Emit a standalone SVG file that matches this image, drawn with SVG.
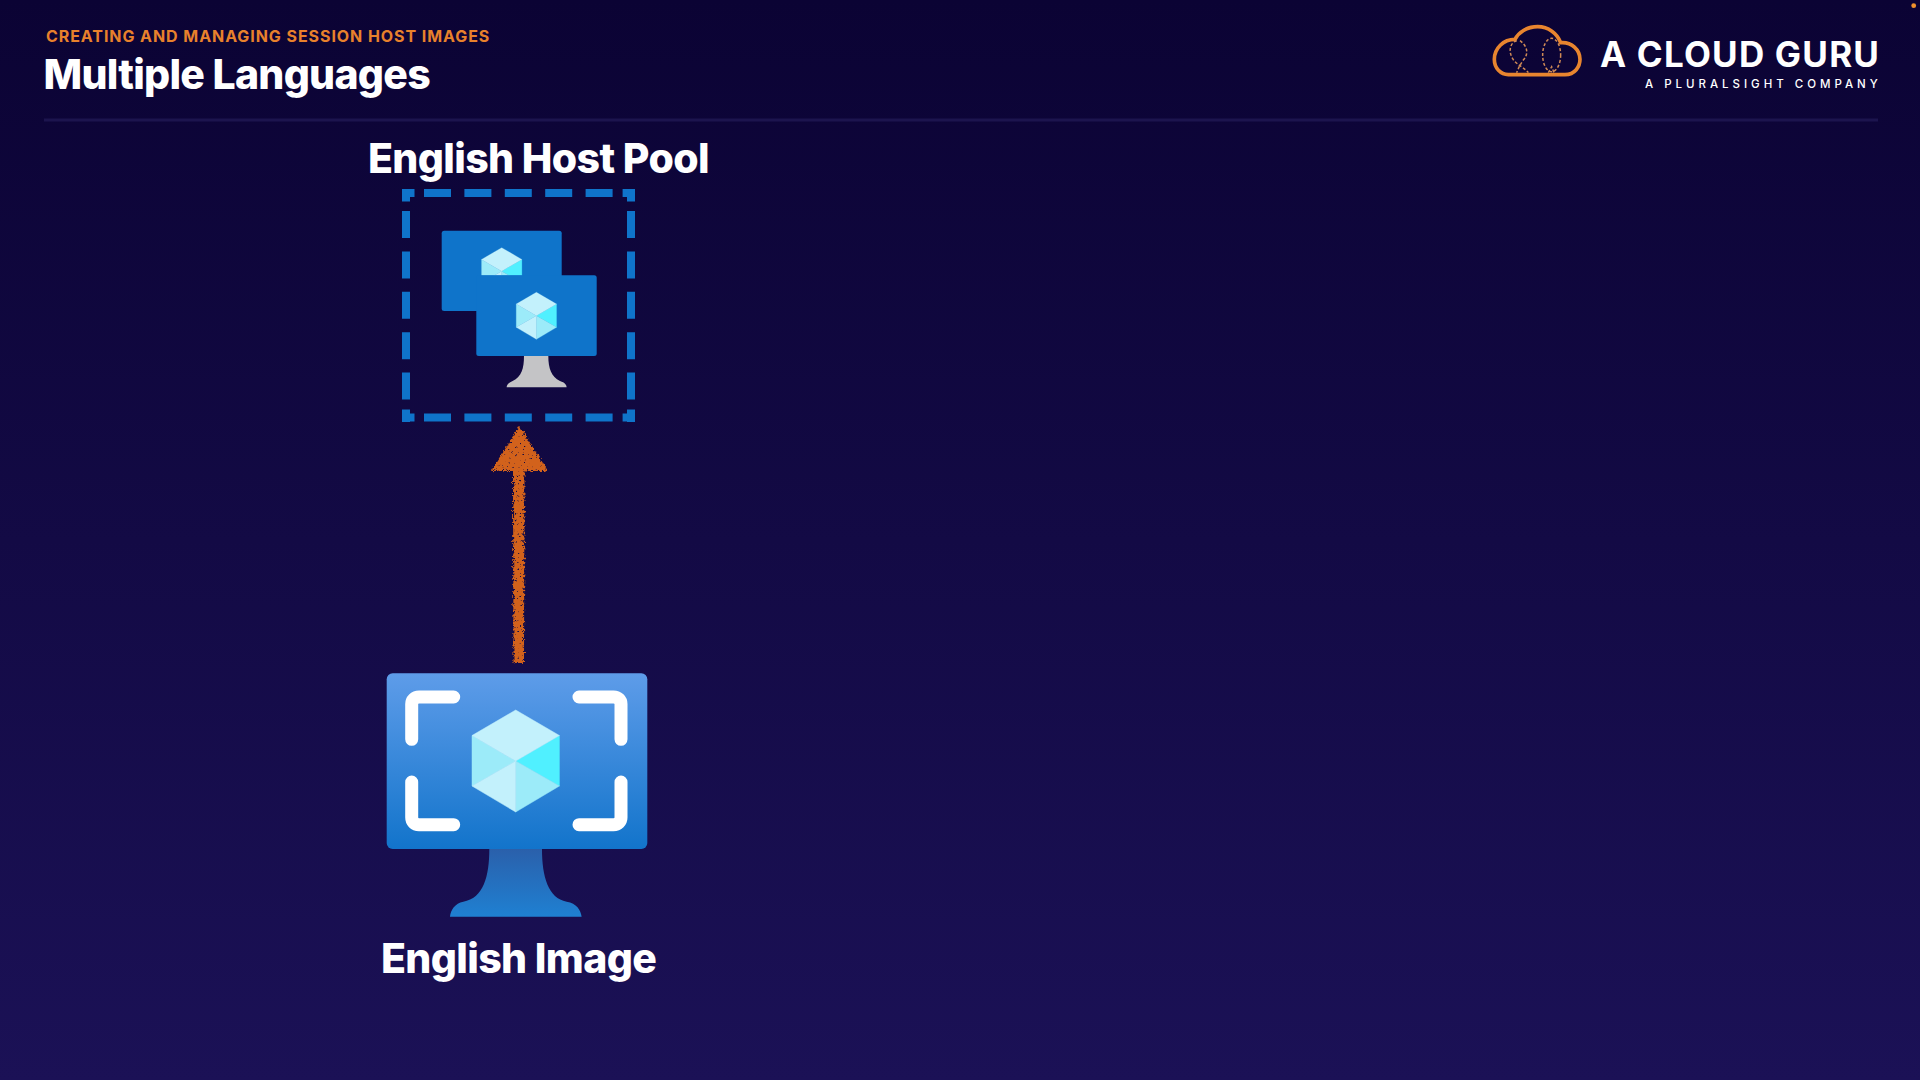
<svg xmlns="http://www.w3.org/2000/svg" width="1920" height="1080" viewBox="0 0 1920 1080">
<style>
text{font-family:Inter,"Liberation Sans",sans-serif;fill:#fff}
.t{font-weight:800;font-size:41px;letter-spacing:-.65px}
.dash{stroke:#0f74ca;stroke-width:8;stroke-dasharray:12.5 9.5 27 13.4 27 13.4 27 13.4 27 13.4 27 10 12.5 99;fill:none}
.ct{fill:#c3f1fc;stroke:#c3f1fc}.cm{fill:#9cebf9;stroke:#9cebf9}.cb{fill:#50f0ff;stroke:#50f0ff}
.ct,.cm,.cb{stroke-width:.5;stroke-linejoin:round}
.br{fill:none;stroke:#fff;stroke-width:13;stroke-linecap:round;stroke-linejoin:round}
.dot{fill:none;stroke:#d08a55;stroke-width:4.5;stroke-dasharray:9 6}
</style>
<defs>
<linearGradient id="bg" x1="0" y1="0" x2="0" y2="1"><stop offset="0" stop-color="#0b0334"/><stop offset="1" stop-color="#1b1156"/></linearGradient>
<linearGradient id="scr" x1="0" y1="0" x2="0" y2="1"><stop offset="0" stop-color="#5e9ce9"/><stop offset="1" stop-color="#1274cb"/></linearGradient>
<linearGradient id="std" x1="0" y1="0" x2="0" y2="1"><stop offset="0" stop-color="#2a60ab"/><stop offset="1" stop-color="#1f80d2"/></linearGradient>
<g id="cube">
<polygon class="cm" points="-43.7,-25.5 0,0 -43.7,25"/>
<polygon class="cb" points="43.7,-25.5 0,0 43.7,25"/>
<polygon class="cm" points="43.7,25 0,0 0,51"/>
<polygon class="ct" points="-43.7,25 0,0 0,51"/>
<polygon class="ct" points="0,-51 43.7,-25.5 0,0 -43.7,-25.5"/>
</g>
<clipPath id="cl"><rect x="470" y="240" width="60" height="35.5"/></clipPath>
<filter id="rough" x="-30%" y="-5%" width="160%" height="110%">
<feTurbulence type="fractalNoise" baseFrequency="0.45" numOctaves="2" seed="4" result="n"/>
<feDisplacementMap in="SourceGraphic" in2="n" scale="6" xChannelSelector="R" yChannelSelector="G" result="d"/>
<feColorMatrix in="n" type="matrix" values="0 0 0 0 0 0 0 0 0 0 0 0 0 0 0 0 9 0 0 -2" result="m"/>
<feComposite in="d" in2="m" operator="in"/>
</filter>
</defs>
<rect id="background" width="1920" height="1080" fill="url(#bg)"/>
<g id="header">
<text x="46" y="41.5" font-size="16" font-weight="700" letter-spacing=".93" style="fill:#e8812c">CREATING AND MANAGING SESSION HOST IMAGES</text>
<text x="43.5" y="89" font-size="41" font-weight="800" letter-spacing="-.73">Multiple Languages</text>
<rect x="44" y="118.5" width="1834" height="3" fill="#1c144e"/>
</g>
<g id="logo">
<g transform="translate(1470 0) scale(.3333)">
<path d="M115,224H285C315,224 330,200 330,178C330,150 305,125 272,128C262,100 235,80 203,80C170,80 145,98 135,118C100,118 73,145 73,178C73,205 92,224 115,224Z" fill="none" stroke="#e8852f" stroke-width="11"/>
<ellipse class="dot" cx="245" cy="165" rx="27" ry="50"/>
<path class="dot" d="M140,122C115,130 115,165 135,185C150,200 165,205 175,218M150,122C175,140 175,165 160,180C150,195 145,205 140,218M235,218L245,200L252,218"/>
</g>
<text x="1600" y="67.3" font-size="35" font-weight="700" letter-spacing="1.2">A CLOUD GURU</text>
<text x="1645" y="88.3" font-size="11.5" font-weight="500" letter-spacing="3.98">A PLURALSIGHT COMPANY</text>
<circle cx="1913.7" cy="5.7" r="2.4" fill="#f0922c"/>
</g>
<g id="connectors">
<path d="M519.3,426L548,471H524.5L524,663H513.5L513,471H491Z" fill="#d2621b" filter="url(#rough)"/>
</g>
<g id="english-host-pool">
<line class="dash" x1="402" y1="193" x2="635" y2="193"/>
<line class="dash" x1="402" y1="417.5" x2="635" y2="417.5"/>
<line class="dash" x1="406" y1="189" x2="406" y2="422"/>
<line class="dash" x1="631" y1="189" x2="631" y2="422"/>
<rect x="441.7" y="230.7" width="120" height="80.3" rx="2.5" fill="#0f74ca"/>
<g clip-path="url(#cl)"><use href="#cube" transform="translate(501.7 271.2) scale(.4615)"/></g>
<rect x="476.3" y="275.3" width="120.4" height="80.7" rx="2.5" fill="#0f74ca"/>
<use href="#cube" transform="translate(536.4 315.8) scale(.4615)"/>
<path transform="translate(360 120) scale(.3333)" d="M492,708C492,745 485,770 458,783C445,788 440,795 440,802H620C620,795 615,788 600,783C574,770 565,745 565,708Z" fill="#c4c4c6"/>
<text class="t" x="368" y="173.3">English Host Pool</text>
</g>
<g id="english-image">
<rect x="386.7" y="673.3" width="260.6" height="175.7" rx="6" fill="url(#scr)"/>
<use href="#cube" transform="translate(515.7 761)"/>
<path class="br" d="M453.7,697H419C414.5,697 411.7,700 411.7,704V739.3"/>
<path class="br" d="M579,697H613.5C618,697 621,700 621,704V739.3"/>
<path class="br" d="M411.7,782V817.5C411.7,821.5 414.5,824.7 419,824.7H453.7"/>
<path class="br" d="M621,782V817.5C621,821.5 618,824.7 613.5,824.7H579"/>
<path transform="translate(360 650) scale(.3333)" d="M388,597C388,680 370,745 310,755C285,760 272,780 270,800H665C662,780 650,760 620,755C565,745 546,680 546,597Z" fill="url(#std)"/>
<text class="t" x="381" y="972.7">English Image</text>
</g>
</svg>
